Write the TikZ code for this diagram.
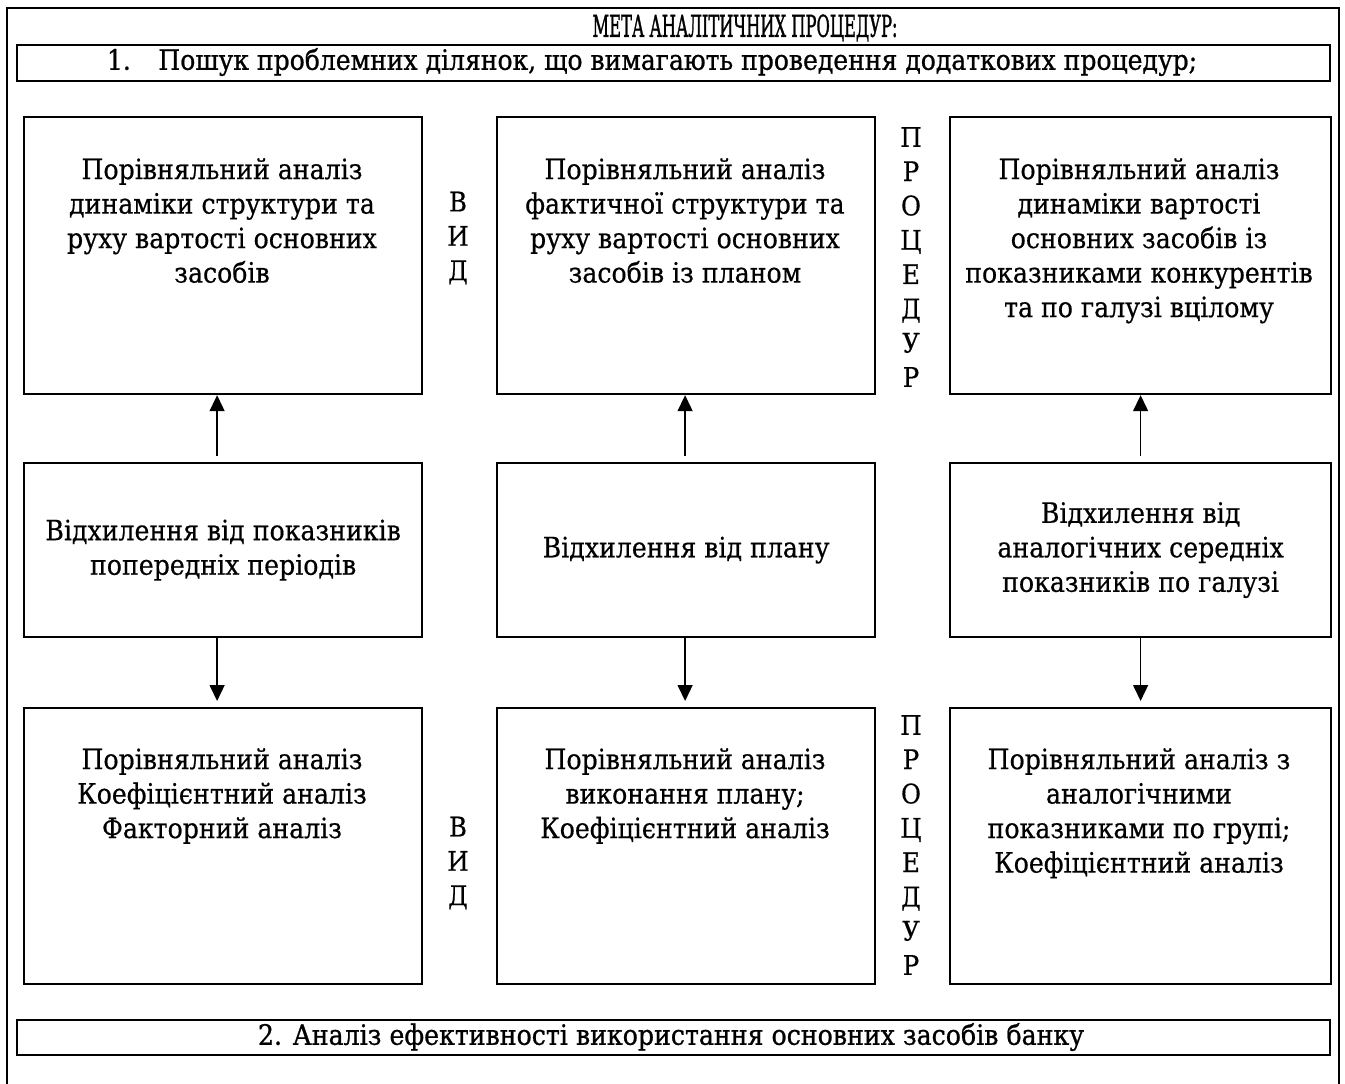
\documentclass[tikz,border=0pt]{standalone}
\usepackage{fontspec}
\setmainfont{DejaVu Serif}[FakeStretch=0.9, FakeBold=0.5]
\newfontfamily\headfont{DejaVu Serif}[FakeBold=0.9]
\newfontfamily\titlefont{DejaVu Serif}[FakeBold=1.6]
\usepackage{graphicx}
\usetikzlibrary{arrows.meta}
\begin{document}
\begin{tikzpicture}[x=1pt,y=-1pt,
  box/.style={draw, line width=2.2pt, inner sep=0pt},
  txt/.style={align=center, font=\fontsize{28}{34.5}\selectfont, inner sep=0pt},
  vlet/.style={align=center, font=\fontsize{27}{34.3}\selectfont, inner sep=0pt},
  arr/.style={line width=1.5pt, -{Triangle[width=15pt,length=16pt]}}
]
\useasboundingbox (0,0) rectangle (1345,1084);
\draw[line width=1.8pt] (7,1095) -- (7,8) -- (1339,8) -- (1339,1095);

% title
\node[inner sep=0pt] (title) at (745,28) {\resizebox{305pt}{\height}{\titlefont\fontsize{30}{33}\selectfont МЕТА АНАЛІТИЧНИХ ПРОЦЕДУР:}};

% goal 1
\node[box, minimum width=1313pt, minimum height=36pt, anchor=north west] (g1) at (16,44) {};
\node[inner sep=0pt] (g1t) at (652,62) {\resizebox{1090pt}{\height}{\headfont\fontsize{28}{31}\selectfont 1.\hspace{1.1em}Пошук проблемних ділянок, що вимагають проведення додаткових процедур;}};

% boxes
\node[box, minimum width=398pt, minimum height=277pt, anchor=north west] (b11) at (23,116) {};
\node[box, minimum width=378pt, minimum height=277pt, anchor=north west] (b12) at (496,116) {};
\node[box, minimum width=381pt, minimum height=277pt, anchor=north west] (b13) at (949,116) {};
\node[box, minimum width=398pt, minimum height=174pt, anchor=north west] (b21) at (23,462) {};
\node[box, minimum width=378pt, minimum height=174pt, anchor=north west] (b22) at (496,462) {};
\node[box, minimum width=381pt, minimum height=174pt, anchor=north west] (b23) at (949,462) {};
\node[box, minimum width=398pt, minimum height=276pt, anchor=north west] (b31) at (23,707) {};
\node[box, minimum width=378pt, minimum height=276pt, anchor=north west] (b32) at (496,707) {};
\node[box, minimum width=381pt, minimum height=276pt, anchor=north west] (b33) at (949,707) {};

% texts row 1
\node[txt, anchor=north] (t11) at (222,158) {Порівняльний аналіз\\динаміки структури та\\руху вартості основних\\засобів};
\node[txt, anchor=north] (t12) at (685,158) {Порівняльний аналіз\\фактичної структури та\\руху вартості основних\\засобів із планом};
\node[txt, anchor=north] (t13) at (1139,158) {Порівняльний аналіз\\динаміки вартості\\основних засобів із\\показниками конкурентів\\та по галузі вцілому};

% texts row 2
\node[txt] (t21) at (b21.center) {Відхилення від показників\\попередніх періодів};
\node[txt] (t22) at (b22.center) {Відхилення від плану};
\node[txt] (t23) at (b23.center) {Відхилення від\\аналогічних середніх\\показників по галузі};

% texts row 3
\node[txt, anchor=north] (t31) at (222,748) {Порівняльний аналіз\\Коефіцієнтний аналіз\\Факторний аналіз};
\node[txt, anchor=north] (t32) at (685,748) {Порівняльний аналіз\\виконання плану;\\Коефіцієнтний аналіз};
\node[txt, anchor=north] (t33) at (1139,748) {Порівняльний аналіз з\\аналогічними\\показниками по групі;\\Коефіцієнтний аналіз};

% vertical labels
\node[vlet] (v1) at (458,238) {В\\И\\Д};
\node[vlet] (p1) at (911,257) {П\\Р\\О\\Ц\\Е\\Д\\У\\Р};
\node[vlet] (v3) at (458,863) {В\\И\\Д};
\node[vlet] (p3) at (911,845) {П\\Р\\О\\Ц\\Е\\Д\\У\\Р};

% arrows up
\draw[arr, shorten <=6pt] ([xshift=-6pt]b21.north) -- ([xshift=-6pt]b11.south);
\draw[arr, shorten <=6pt] ([xshift=-1pt]b22.north) -- ([xshift=-1pt]b12.south);
\draw[arr, shorten <=6pt] (b23.north) -- (b13.south);
% arrows down
\draw[arr, shorten >=6pt] ([xshift=-6pt]b21.south) -- ([xshift=-6pt]b31.north);
\draw[arr, shorten >=6pt] ([xshift=-1pt]b22.south) -- ([xshift=-1pt]b32.north);
\draw[arr, shorten >=6pt] (b23.south) -- (b33.north);

% goal 2
\node[box, minimum width=1313pt, minimum height=35pt, anchor=north west] (g2) at (16,1019) {};
\node[inner sep=0pt] (g2t) at (671,1037) {\resizebox{826pt}{\height}{\headfont\fontsize{28}{31}\selectfont 2. Аналіз ефективності використання основних засобів банку}};
\end{tikzpicture}
\end{document}
